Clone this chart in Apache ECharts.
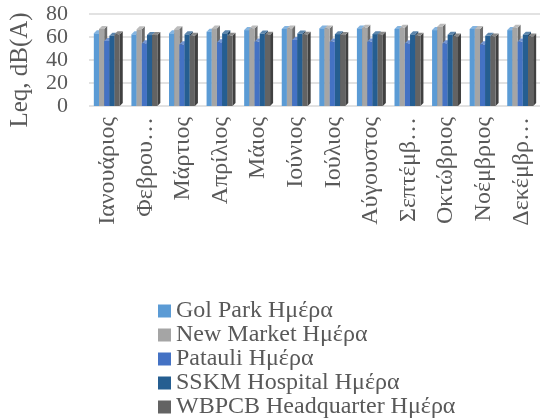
<!DOCTYPE html>
<html>
<head>
<meta charset="utf-8">
<style>
  html, body { margin: 0; padding: 0; background: #fff; }
  #chart { width: 542px; height: 419px; }
</style>
<script src="https://cdn.jsdelivr.net/npm/echarts@6/dist/echarts.min.js"></script>
</head>
<body>
<div id="chart"></div>
<script>
// Monthly daytime Leq per monitoring station
const months = ['Ιανουάριος', 'Φεβρουάριος', 'Μάρτιος', 'Απρίλιος', 'Μάιος', 'Ιούνιος',
  'Ιούλιος', 'Αύγουστος', 'Σεπτέμβριος', 'Οκτώβριος', 'Νοέμβριος', 'Δεκέμβριος'];
const monthLabels = ['Ιανουάριος', 'Φεβρου…', 'Μάρτιος', 'Απρίλιος', 'Μάιος', 'Ιούνιος',
  'Ιούλιος', 'Αύγουστος', 'Σεπτέμβ…', 'Οκτώβριος', 'Νοέμβριος', 'Δεκέμβρ…'];
const yTicks = [0, 20, 40, 60, 80];

const golPark   = [63.2, 62.3, 63.2, 64.6, 66.0, 67.0, 67.5, 67.5, 67.0, 66.0, 67.0, 66.0];
const newMarket = [67.0, 66.7, 66.7, 67.5, 67.5, 67.5, 67.5, 68.0, 68.0, 69.0, 67.0, 68.0];
const patauli   = [56.5, 54.5, 53.6, 55.4, 56.0, 57.4, 56.0, 56.0, 54.5, 54.5, 53.6, 56.0];
const sskm      = [61.1, 61.7, 62.3, 63.2, 63.0, 63.0, 62.5, 62.5, 62.3, 62.0, 61.0, 62.0];
const wbpcb     = [62.3, 61.7, 61.0, 61.0, 62.0, 62.0, 61.7, 62.0, 61.0, 60.5, 60.5, 60.5];

const seriesNames = ['Gol Park Ημέρα', 'New Market Ημέρα', 'Patauli Ημέρα',
  'SSKM Hospital Ημέρα', 'WBPCB Headquarter Ημέρα'];
const seriesData = [golPark, newMarket, patauli, sskm, wbpcb];
const colors = ['#5B9BD5', '#A5A5A5', '#4472C4', '#255E91', '#636363'];

function shade(hex, f) {
  const n = parseInt(hex.slice(1), 16);
  const r = (n >> 16) & 255, g = (n >> 8) & 255, b = n & 255;
  const adj = c => Math.max(0, Math.min(255, Math.round(f >= 0 ? c + (255 - c) * f : c * (1 + f))));
  return 'rgb(' + adj(r) + ',' + adj(g) + ',' + adj(b) + ')';
}

const FONT = '"Liberation Serif", "DejaVu Serif", serif';
const TEXT = '#595959';
const DX = 3, DY = 3;   // depth of the extruded bars

// Column with a visible top and right side face
function makeRender(si) {
  return function (params, api) {
    const cat = api.value(0);
    const val = api.value(1);
    const base = api.coord([cat, 0]);
    const top = api.coord([cat, val]);
    const band = api.size([1, 0])[0];
    const bw = band * 0.69 / 5;
    const x0 = base[0] - bw * 2.5 + si * bw - 1;
    const x1 = x0 + bw;
    const yb = base[1], yt = top[1];
    const c = colors[si];
    return {
      type: 'group',
      children: [
        { type: 'polygon', shape: { points: [[x1, yt], [x1 + DX, yt - DY], [x1 + DX, yb - DY], [x1, yb]] },
          style: { fill: shade(c, -0.35) } },
        { type: 'polygon', shape: { points: [[x0, yt], [x0 + DX, yt - DY], [x1 + DX, yt - DY], [x1, yt]] },
          style: { fill: shade(c, 0.25) } },
        { type: 'rect', shape: { x: x0, y: yt, width: bw, height: yb - yt },
          style: { fill: c } }
      ]
    };
  };
}

const series = seriesData.map((arr, si) => ({
  name: seriesNames[si],
  type: 'custom',
  renderItem: makeRender(si),
  itemStyle: { color: colors[si] },
  encode: { x: 0, y: 1 },
  data: arr.map((v, i) => [i, v])
}));

const chart = echarts.init(document.getElementById('chart'), null, { renderer: 'canvas' });
chart.setOption({
  animation: false,
  color: colors,
  grid: { left: 89, right: 2, top: 14, bottom: 313, containLabel: false },
  xAxis: {
    type: 'category',
    data: months,
    axisLine: { show: false },
    axisTick: { show: false },
    axisLabel: {
      rotate: 90,
      interval: 0,
      margin: 11,
      color: TEXT,
      fontFamily: FONT,
      fontSize: 24,
      formatter: (v, i) => monthLabels[i]
    }
  },
  yAxis: {
    type: 'value',
    min: yTicks[0],
    max: yTicks[yTicks.length - 1],
    interval: 20,
    name: 'Leq, dB(A)',
    nameLocation: 'middle',
    nameGap: 56,
    nameTextStyle: { color: TEXT, fontFamily: FONT, fontSize: 25, padding: [0, 20, 0, 0] },
    axisLine: { show: false },
    axisTick: { show: false },
    axisLabel: { color: TEXT, fontFamily: FONT, fontSize: 22, margin: 21 },
    splitLine: { lineStyle: { color: '#d9d9d9', width: 1.5 } }
  },
  legend: {
    orient: 'vertical',
    left: 158,
    top: 299,
    padding: 0,
    itemWidth: 13,
    itemHeight: 13,
    itemGap: 0,
    icon: 'rect',
    textStyle: { color: TEXT, fontFamily: FONT, fontSize: 24, lineHeight: 22.75 },
    data: seriesNames
  },
  series: series
});
</script>
</body>
</html>
